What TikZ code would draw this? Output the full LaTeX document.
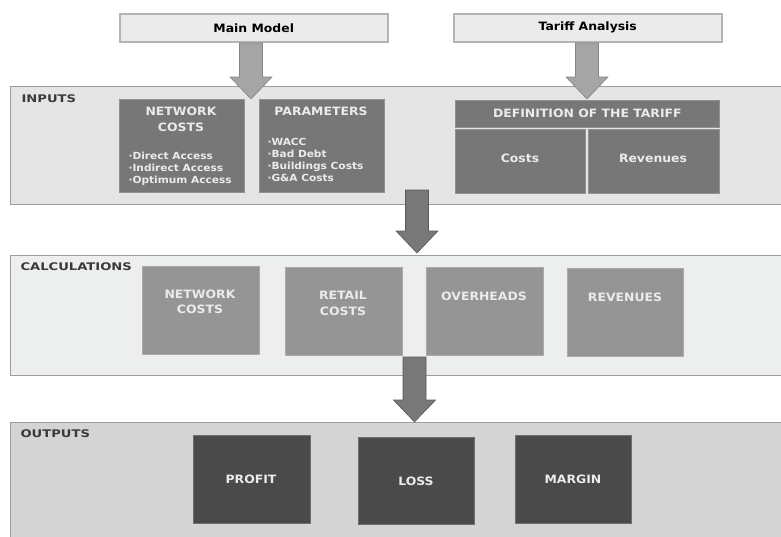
\documentclass[tikz,border=0pt]{standalone}
\usepackage{fontspec}
\setmainfont{DejaVu Sans}[FakeStretch=1.08]
\newfontfamily\widefont{DejaVu Sans}[FakeStretch=1.25]
\usetikzlibrary{calc}

\definecolor{topfill}{HTML}{EBEBEB}
\definecolor{topline}{HTML}{B4B4B4}
\definecolor{panelline}{HTML}{9C9C9C}
\definecolor{infill}{HTML}{E5E5E5}
\definecolor{calcfill}{HTML}{EDEEEE}
\definecolor{outfill}{HTML}{D4D4D4}
\definecolor{inbox}{HTML}{777777}
\definecolor{calcbox}{HTML}{959595}
\definecolor{outbox}{HTML}{4A4A4A}
\definecolor{lightarrow}{HTML}{A5A5A5}
\definecolor{darkarrow}{HTML}{787878}
\definecolor{labelgray}{HTML}{3A3A3A}

\tikzset{
  topbox/.style={draw=topline, fill=topfill, line width=1.5pt, anchor=north west, inner sep=0pt},
  panel/.style={draw=panelline, line width=1pt, anchor=north west, inner sep=0pt},
  box/.style={draw=#1!80!white, fill=#1, line width=0.6pt, anchor=north west, inner sep=0pt},
  paneltitle/.style={anchor=west, text=labelgray, font=\widefont\bfseries\fontsize{10.5}{12}\selectfont},
  boxtitle/.style={text=white!92!black, align=center, font=\bfseries\fontsize{11.5}{15.5}\selectfont},
  bullets/.style={anchor=west, align=left, text=white!92!black, font=\bfseries\fontsize{9.8}{12}\selectfont},
  arrowlight/.style={fill=lightarrow, draw=lightarrow!80!black, line width=0.6pt},
  arrowdark/.style={fill=darkarrow, draw=darkarrow!75!black, line width=0.6pt}
}

% block arrow: start, tip, style
\newcommand{\blockarrow}[3]{%
  \filldraw[#3] let \p1=(#1), \p2=(#2) in
    (\x1-11.5pt,\y1) -- (\x1+11.5pt,\y1) -- (\x1+11.5pt,\y2+22pt) -- (\x1+21pt,\y2+22pt)
    -- (\x2,\y2) -- (\x1-21pt,\y2+22pt) -- (\x1-11.5pt,\y2+22pt) -- cycle;}

\begin{document}
\begin{tikzpicture}[x=1pt,y=-1pt]
  \useasboundingbox (0,0) rectangle (781,536);

  % top boxes
  \node[topbox, minimum width=268, minimum height=28] (mainmodel) at (119,13) {};
  \node[font=\bfseries\fontsize{11.5}{12}\selectfont] (mainmodel-t) at (mainmodel.center) {Main Model};
  \node[topbox, minimum width=268, minimum height=28] (tariff) at (453,13) {};
  \node[font=\bfseries\fontsize{11.5}{12}\selectfont] (tariff-t) at (tariff.center) {Tariff Analysis};

  % panels
  \node[panel, fill=infill, minimum width=790, minimum height=118] (inputs) at (10,86) {};
  \node[paneltitle] (inputs-t) at (18,99) {INPUTS};
  \node[panel, fill=calcfill, minimum width=790, minimum height=120] (calc) at (10,255) {};
  \node[paneltitle] (calc-t) at (17,267) {CALCULATIONS};
  \node[panel, fill=outfill, minimum width=790, minimum height=130] (outputs) at (10,422) {};
  \node[paneltitle] (outputs-t) at (17,434) {OUTPUTS};

  % inputs
  \node[box=inbox, minimum width=125, minimum height=93] (netcosts) at (119,99) {};
  \node[boxtitle] (netcosts-t) at (181,119.5) {NETWORK\\COSTS};
  \node[bullets] (netcosts-b) at (125,169) {·Direct Access\\·Indirect Access\\·Optimum Access};
  \node[box=inbox, minimum width=125, minimum height=93] (params) at (259,99) {};
  \node[boxtitle] (params-t) at (321,111) {PARAMETERS};
  \node[bullets] (params-b) at (264,160) {·WACC\\·Bad Debt\\·Buildings Costs\\·G\&A Costs};
  \node[box=inbox, minimum width=264, minimum height=27] (tariffdef) at (455,100) {};
  \node[boxtitle] (tariffdef-t) at (tariffdef.center) {DEFINITION OF THE TARIFF};
  \node[box=inbox, minimum width=130, minimum height=64] (tcosts) at (455,129) {};
  \node[boxtitle] (tcosts-t) at (520,158) {Costs};
  \node[box=inbox, minimum width=131, minimum height=64] (trevenues) at (588,129) {};
  \node[boxtitle] (trevenues-t) at (653,158) {Revenues};

  % calculations
  \node[box=calcbox, minimum width=117, minimum height=88] (cnet) at (142,266) {};
  \node[boxtitle] (cnet-t) at (200,302) {NETWORK\\COSTS};
  \node[box=calcbox, minimum width=117, minimum height=88] (cretail) at (285,267) {};
  \node[boxtitle] (cretail-t) at (343,303.5) {RETAIL\\COSTS};
  \node[box=calcbox, minimum width=117, minimum height=88] (coverheads) at (426,267) {};
  \node[boxtitle] (coverheads-t) at (484,296) {OVERHEADS};
  \node[box=calcbox, minimum width=116, minimum height=88] (crevenues) at (567,268) {};
  \node[boxtitle] (crevenues-t) at (625,297) {REVENUES};

  % outputs
  \node[box=outbox, minimum width=117, minimum height=88] (profit) at (193,435) {};
  \node[boxtitle] (profit-t) at (251,479) {PROFIT};
  \node[box=outbox, minimum width=116, minimum height=87] (loss) at (358,437) {};
  \node[boxtitle] (loss-t) at (416,481) {LOSS};
  \node[box=outbox, minimum width=116, minimum height=88] (margin) at (515,435) {};
  \node[boxtitle] (margin-t) at (573,479) {MARGIN};

  % arrows
  \coordinate (a1s) at (251,43);  \coordinate (a1e) at (251,99);
  \coordinate (a2s) at (587,43);  \coordinate (a2e) at (587,99);
  \coordinate (a3s) at (417,190); \coordinate (a3e) at (417,253);
  \coordinate (a4s) at (414.5,357); \coordinate (a4e) at (414.5,422);
  \blockarrow{a1s}{a1e}{arrowlight}
  \blockarrow{a2s}{a2e}{arrowlight}
  \blockarrow{a3s}{a3e}{arrowdark}
  \blockarrow{a4s}{a4e}{arrowdark}
\end{tikzpicture}
\end{document}
